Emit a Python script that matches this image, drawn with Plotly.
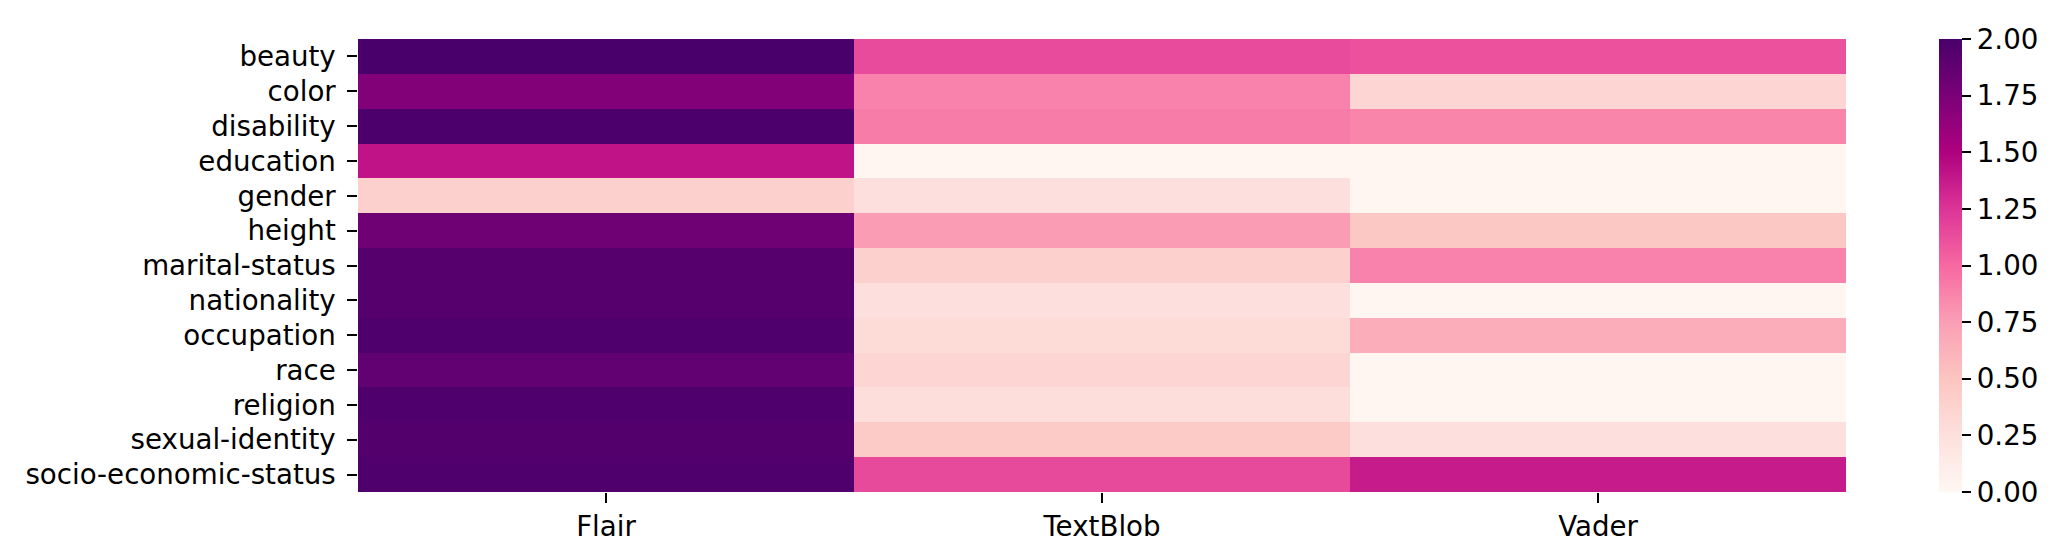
import plotly.graph_objects as go

categories = ["beauty", "color", "disability", "education", "gender", "height",
              "marital-status", "nationality", "occupation", "race", "religion",
              "sexual-identity", "socio-economic-status"]
methods = ["Flair", "TextBlob", "Vader"]

flair = [2.00, 1.71, 1.99, 1.41, 0.40, 1.80, 1.94, 1.94, 1.97, 1.87, 1.97, 1.95, 1.97]
textblob = [1.14, 0.88, 0.91, 0.02, 0.25, 0.76, 0.40, 0.25, 0.29, 0.34, 0.27, 0.44, 1.15]
vader = [1.11, 0.34, 0.87, 0.01, 0.01, 0.47, 0.88, 0.01, 0.66, 0.01, 0.01, 0.25, 1.37]

cbar_ticks = [0.0, 0.25, 0.5, 0.75, 1.0, 1.25, 1.5, 1.75, 2.0]

rdpu = ["rgb(255,247,243)", "rgb(253,224,221)", "rgb(252,197,192)", "rgb(250,159,181)",
        "rgb(247,104,161)", "rgb(221,52,151)", "rgb(174,1,126)", "rgb(122,1,119)",
        "rgb(73,0,106)"]
colorscale = [[i / 8, c] for i, c in enumerate(rdpu)]

z = [[flair[i], textblob[i], vader[i]] for i in range(len(categories))]

FONT = "DejaVu Sans"
FS = 27.7

W, H = 2055, 551
L, R, T, B = 350, W - 1838, 31, H - 484
plot_w = W - L - R

fig = go.Figure(go.Heatmap(
    z=z, x=methods, y=categories,
    colorscale=colorscale, zmin=0, zmax=2,
    xgap=0, ygap=0,
    colorbar=dict(
        thickness=23, thicknessmode="pixels",
        len=1, lenmode="fraction",
        x=(1931 - L) / plot_w, xanchor="left", xpad=0,
        y=0.5, yanchor="middle", ypad=0,
        outlinewidth=0,
        tickvals=cbar_ticks,
        ticktext=[f"{v:.2f}" for v in cbar_ticks],
        ticks="outside", ticklen=9.7, tickwidth=2.2, tickcolor="black",
        tickfont=dict(family=FONT, size=FS, color="black"),
    ),
))

fig.update_layout(
    width=W, height=H,
    margin=dict(l=L, r=R, t=T, b=B, pad=0),
    paper_bgcolor="white", plot_bgcolor="white",
    font=dict(family=FONT, size=FS, color="black"),
    xaxis=dict(
        showgrid=False, zeroline=False, showline=False,
        ticks="outside", ticklen=9.7, tickwidth=2.2, tickcolor="black",
        tickfont=dict(family=FONT, size=FS, color="black"),
        ticklabelstandoff=0,
    ),
    yaxis=dict(
        autorange="reversed",
        showgrid=False, zeroline=False, showline=False,
        ticks="outside", ticklen=9.7, tickwidth=2.2, tickcolor="black",
        tickfont=dict(family=FONT, size=FS, color="black"),
        ticklabelstandoff=6,
    ),
)

fig.write_html("out.html")
